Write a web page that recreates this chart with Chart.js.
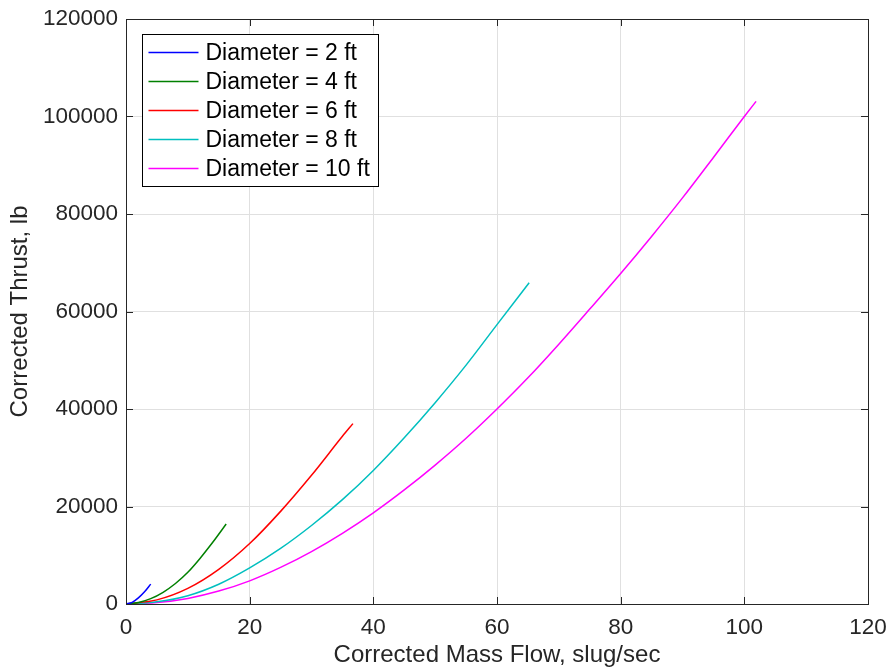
<!DOCTYPE html>
<html>
<head>
<meta charset="utf-8">
<script src="https://cdn.jsdelivr.net/npm/chart.js@4.4.0/dist/chart.umd.min.js"></script>
<style>
  html, body { margin: 0; padding: 0; background: #fff; }
</style>
</head>
<body>
<canvas id="myChart" width="891" height="671"></canvas>
<script>
const ctx = document.getElementById('myChart');

// corrected mass flow (slug/sec) vs corrected thrust (lb)
const mass2 = [0, 1, 2, 3, 4.0];
const thrust2 = [0, 330, 1250, 2500, 4080];

const mass4 = [0, 2, 4, 6, 8, 10, 12, 14, 16.2];
const thrust4 = [0, 300, 1100, 2400, 4200, 6500, 9400, 12600, 16400];

const mass6 = [0, 5, 10, 15, 20, 25, 30, 35, 36.7];
const thrust6 = [0, 850, 3200, 7100, 12400, 19000, 26400, 34400, 37000];

const mass8 = [0, 5, 10, 15, 20, 25, 30, 35, 40, 45, 50, 55, 60, 65.2];
const thrust8 = [0, 450, 1700, 4050, 7400, 11400, 16100, 21400, 27400, 34100, 41300, 49000, 57300, 65900];

const mass10 = [0, 5, 10, 15, 20, 25, 30, 35, 40, 45, 50, 55, 60, 65, 70, 75, 80, 85, 90, 95, 100, 101.9];
const thrust10 = [0, 300, 1150, 2650, 4750, 7500, 10750, 14500, 18700, 23400, 28500, 34000, 40000, 46400, 53300, 60500, 67800, 75400, 83300, 91600, 100000, 103100];

const labels = ['Diameter = 2 ft', 'Diameter = 4 ft', 'Diameter = 6 ft', 'Diameter = 8 ft', 'Diameter = 10 ft'];
const colors = ['#0000ff', '#008000', '#ff0000', '#00bfbf', '#ff00ff'];

const xTicks = [0, 20, 40, 60, 80, 100, 120];
const yTicks = [0, 20000, 40000, 60000, 80000, 100000, 120000];

const fam = "'Liberation Sans', Arial, Helvetica, sans-serif";
const ink = '#262626';

function pts(xs, ys) {
  return xs.map((v, i) => ({ x: v, y: ys[i] }));
}

const series = [[mass2, thrust2], [mass4, thrust4], [mass6, thrust6], [mass8, thrust8], [mass10, thrust10]];

// box round the axes, inward ticks and the legend
const frame = {
  id: 'frame',
  afterDatasetsDraw(chart) {
    const c = chart.ctx;
    const a = chart.chartArea;
    const sx = chart.scales.x, sy = chart.scales.y;
    const tl = 7;
    c.save();
    c.strokeStyle = ink;
    c.lineWidth = 1;
    c.beginPath();
    xTicks.forEach(v => {
      const p = Math.round(sx.getPixelForValue(v)) + 0.5;
      c.moveTo(p, a.bottom); c.lineTo(p, a.bottom - tl);
      c.moveTo(p, a.top); c.lineTo(p, a.top + tl);
    });
    yTicks.forEach(v => {
      const p = Math.round(sy.getPixelForValue(v)) + 0.5;
      c.moveTo(a.left, p); c.lineTo(a.left + tl, p);
      c.moveTo(a.right, p); c.lineTo(a.right - tl, p);
    });
    c.stroke();
    c.strokeRect(Math.round(a.left) + 0.5, Math.round(a.top) + 0.5,
      Math.round(a.right - a.left), Math.round(a.bottom - a.top));

    // legend
    const bx = Math.round(a.left) + 16.5, by = Math.round(a.top) + 15.5;
    const bw = 236, bh = 152;
    c.fillStyle = '#fff';
    c.fillRect(bx, by, bw, bh);
    c.strokeStyle = '#000';
    c.strokeRect(bx, by, bw, bh);
    c.font = '23px ' + fam;
    c.textBaseline = 'middle';
    chart.data.datasets.forEach((ds, i) => {
      const ry = by + 18 + i * 29;
      c.strokeStyle = ds.borderColor;
      c.lineWidth = 1.5;
      c.beginPath();
      c.moveTo(bx + 6, ry); c.lineTo(bx + 56, ry);
      c.stroke();
      c.fillStyle = '#000';
      c.fillText(ds.label, bx + 63, ry + 1);
    });
    c.restore();
  }
};

new Chart(ctx, {
  type: 'scatter',
  data: {
    datasets: series.map((s, i) => ({
      label: labels[i],
      data: pts(s[0], s[1]),
      showLine: true,
      borderColor: colors[i],
      backgroundColor: colors[i],
      borderWidth: 1.5,
      pointRadius: 0,
      cubicInterpolationMode: 'monotone'
    }))
  },
  options: {
    responsive: false,
    animation: false,
    layout: { padding: { top: 19, right: 23, left: 0, bottom: 0 } },
    plugins: {
      legend: { display: false },
      tooltip: { enabled: false }
    },
    scales: {
      x: {
        type: 'linear',
        min: 0,
        max: 120,
        afterBuildTicks: s => { s.ticks = xTicks.map(v => ({ value: v })); },
        afterFit: s => { s.height = 67; s.paddingLeft = 0; s.paddingRight = 0; },
        grid: { color: '#e0e0e0', drawTicks: false },
        border: { display: false },
        ticks: { color: ink, font: { family: fam, size: 22.5 }, padding: 10, maxRotation: 0 },
        title: { display: true, text: 'Corrected Mass Flow, slug/sec', color: ink,
          font: { family: fam, size: 24 }, padding: { top: 0, bottom: 1 } }
      },
      y: {
        type: 'linear',
        min: 0,
        max: 120000,
        afterBuildTicks: s => { s.ticks = yTicks.map(v => ({ value: v })); },
        afterFit: s => { s.width = 126; s.paddingTop = 0; s.paddingBottom = 0; },
        grid: { color: '#e0e0e0', drawTicks: false },
        border: { display: false },
        ticks: { color: ink, font: { family: fam, size: 22.5 }, padding: 8, callback: v => String(v) },
        title: { display: true, text: 'Corrected Thrust, lb', color: ink,
          font: { family: fam, size: 24 }, padding: { top: 6, bottom: 0 } }
      }
    }
  },
  plugins: [frame]
});
</script>
</body>
</html>
